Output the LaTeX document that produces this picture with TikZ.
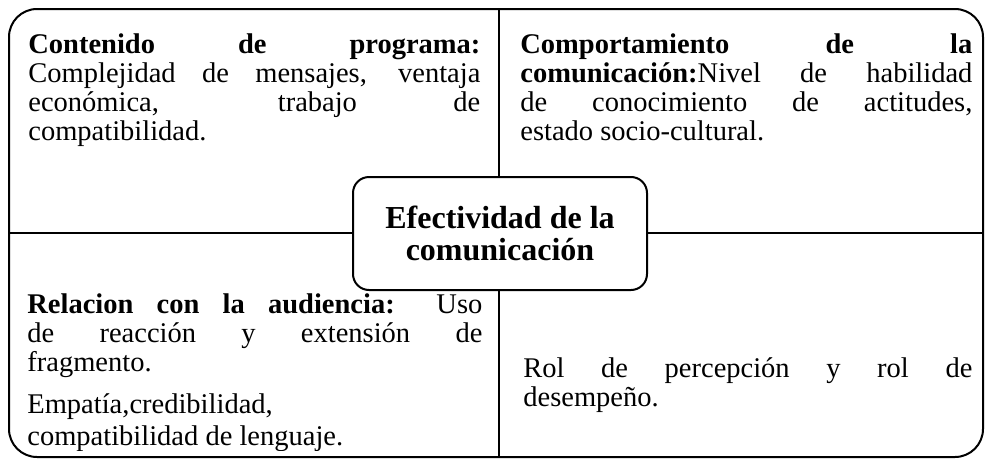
\documentclass[tikz,border=0pt]{standalone}
\usepackage{fontspec}
\setmainfont{Liberation Serif}
\usetikzlibrary{positioning}

\begin{document}
\begin{tikzpicture}[x=0.5pt, y=-0.5pt,
		frame/.style={draw, line width=1pt, rounded corners=14pt, minimum width=487pt, minimum height=224pt, inner sep=0pt},
		hub/.style={draw, fill=white, line width=1pt, rounded corners=8pt, minimum width=147pt, minimum height=56.5pt, align=center, inner sep=0pt, font=\fontsize{16}{16}\selectfont\bfseries},
		cell/.style={anchor=base west, inner sep=0pt, text width=226pt, align=justify, font=\fontsize{14.25}{14.5}\selectfont\hyphenpenalty10000\tolerance10000},
		divider/.style={line width=1pt}]
				\useasboundingbox (0,0) rectangle (986,461);

				% Frame and centre
				\node[frame] (frame) at (496,233) {};
				\draw[divider] (frame.north -| 499,0) -- (frame.south -| 499,0);
				\draw[divider] (frame.west) -- (frame.east);
				\node[hub] (hub) at (500,233.5) {Efectividad de la\\comunicación};

				% Top left
				\node[cell] (programa) at (28,53) {\textbf{Contenido de programa:}\linebreak Complejidad de mensajes, ventaja\linebreak económica, trabajo de\linebreak compatibilidad.};

				% Top right
				\node[cell] (conducta) at (520,53) {\textbf{Comportamiento de la}\linebreak \textbf{comunicación:}Nivel de habilidad\linebreak de conocimiento de actitudes,\linebreak estado socio-cultural.};

				% Bottom left
				\begin{scope}
				\clip (0,0) rectangle (986,450);
				\node[cell, text width=227.5pt] (audiencia) at (27,313) {\setlength{\parskip}{6.5pt}\textbf{Relacion con la audiencia:} Uso\linebreak de reacción y extensión de\linebreak fragmento.\par Empatía,credibilidad,\par\vspace{-5pt}compatibilidad de lenguaje.};
				\end{scope}

				% Bottom right
				\node[cell, text width=224.5pt] (roles) at (523,377) {Rol de percepción y rol de\linebreak desempeño.};
			\end{tikzpicture}
\end{document}
